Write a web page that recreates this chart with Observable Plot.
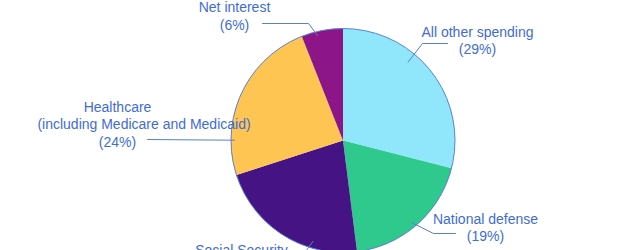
<!DOCTYPE html>
<html>
<head>
<meta charset="utf-8">
<script src="https://cdn.jsdelivr.net/npm/d3@7"></script>
<script src="https://cdn.jsdelivr.net/npm/@observablehq/plot@0.6"></script>
<style>
  html, body { margin: 0; padding: 0; background: #ffffff; }
  #chart svg { display: block; }
</style>
</head>
<body>
<div id="chart"></div>
<script>
// ---- data ----
const categories = ["All other spending", "National defense", "Social Security", "Healthcare", "Net interest"];
const labelLines = [["All other spending"], ["National defense"], ["Social Security"], ["Healthcare", "(including Medicare and Medicaid)"], ["Net interest"]];
const shares = [29, 19, 22, 24, 6];
const colors = ["#90e7fc", "#2fc98e", "#461385", "#fec553", "#8c1587"];

// ---- layout (pixels) ----
const W = 630, H = 250;
const cx = 342.5, cy = 140, R = 112;
const textColor = "#3f6cd6";
const lineStep = 17.5;
// leader: position inside slice (fraction of slice angle, fraction of radius), elbow, end; label line x-centres and first line y
const labelLayout = [
  {aFrac: 0.38, rFrac: 0.91, elbow: [422, 43], end: [447, 43], lx: [477, 477], ly: 32},
  {aFrac: 0.52, rFrac: 0.96, elbow: [433, 233], end: [455, 233], lx: [485, 485], ly: 219},
  {aFrac: 0.30, rFrac: 0.94, elbow: [305, 251], end: [293, 251], lx: [241, 241], ly: 250},
  {aFrac: 0.21, rFrac: 0.97, elbow: null, end: [147, 139], lx: [117, 143.5, 117], ly: 107},
  {aFrac: 0.37, rFrac: 0.965, elbow: [308, 23], end: [262, 23], lx: [234, 234], ly: 7.5}
];

// pie angles (clockwise from 12 o'clock)
const arcs = d3.pie().sort(null).value(d => d)(shares);
const pt = (a, r) => [cx + r * Math.sin(a), cy - r * Math.cos(a)];

const slicePts = [];
arcs.forEach((a, i) => {
  slicePts.push({k: i, x: cx, y: cy});
  const n = Math.max(4, Math.ceil((a.endAngle - a.startAngle) / 0.01));
  for (let j = 0; j <= n; j++) {
    const t = a.startAngle + (a.endAngle - a.startAngle) * j / n;
    const [x, y] = pt(t, R);
    slicePts.push({k: i, x, y});
  }
  slicePts.push({k: i, x: cx, y: cy});
});

const leaderPts = [];
const labels = [];
arcs.forEach((a, i) => {
  const L = labelLayout[i];
  const ang = a.startAngle + (a.endAngle - a.startAngle) * L.aFrac;
  const [x0, y0] = pt(ang, R * L.rFrac);
  leaderPts.push({k: i, x: x0, y: y0});
  if (L.elbow) leaderPts.push({k: i, x: L.elbow[0], y: L.elbow[1]});
  leaderPts.push({k: i, x: L.end[0], y: L.end[1]});
  const lines = [...labelLines[i], "(" + shares[i] + "%)"];
  lines.forEach((t, j) => labels.push({x: L.lx[j], y: L.ly + j * lineStep, text: t}));
});

const sliceMarks = arcs.map((a, i) =>
  Plot.line(slicePts.filter(d => d.k === i), {x: "x", y: "y", fill: colors[i], stroke: "none", curve: "linear-closed"})
);

const chart = Plot.plot({
  width: W,
  height: H,
  margin: 0,
  style: {background: "#ffffff", fontFamily: "'Liberation Sans', Arial, sans-serif"},
  x: {type: "linear", domain: [0, W], range: [0, W], axis: null},
  y: {type: "linear", domain: [0, H], range: [0, H], axis: null},
  marks: [
    ...sliceMarks,
    Plot.dot([{x: cx, y: cy}], {x: "x", y: "y", r: R, fill: "none", stroke: "#5a82d4", strokeWidth: 1}),
    Plot.line(leaderPts, {x: "x", y: "y", z: "k", stroke: "#5a7fd6", strokeWidth: 1}),
    Plot.text(labels, {x: "x", y: "y", text: "text", fill: textColor, fontSize: 14, textAnchor: "middle"})
  ]
});
document.getElementById("chart").appendChild(chart);
</script>
</body>
</html>
